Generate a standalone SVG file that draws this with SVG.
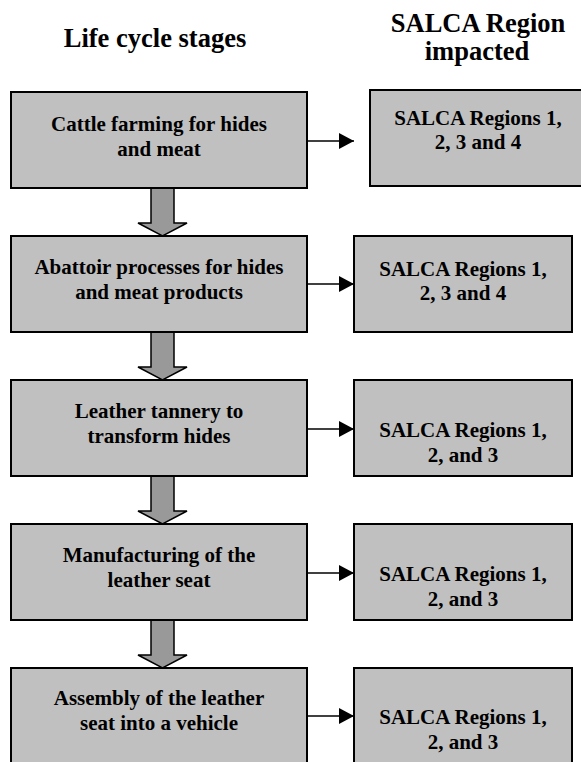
<svg xmlns="http://www.w3.org/2000/svg" width="581" height="762" viewBox="0 0 581 762">
<style>
.box{fill:#c0c0c0;stroke:#000;stroke-width:2}
.t{font-family:"Liberation Serif","Times New Roman",serif;font-weight:bold;font-size:21px;fill:#000;text-anchor:middle}
.h{font-family:"Liberation Serif","Times New Roman",serif;font-weight:bold;font-size:26.5px;fill:#000;text-anchor:middle}
.ba{fill:#999999;stroke:#000;stroke-width:1.5;stroke-linejoin:miter}
.ar{stroke:#000;stroke-width:1.5;fill:none}
</style>
<defs>
<marker id="ah" markerUnits="userSpaceOnUse" markerWidth="16" markerHeight="18" refX="15" refY="8" orient="auto">
<path d="M0,0 L15,8 L0,16 Z" fill="#000"/>
</marker>
</defs>
<g id="headers">
<text class="h" x="155" y="47">Life cycle stages</text>
<text class="h" x="478" y="32">SALCA Region</text>
<text class="h" x="477" y="60">impacted</text>
</g>
<g id="connectors">
<path class="ba" d="M151,188 L174,188 L174,223 L187,223 L162.5,236 L138,223 L151,223 Z"/>
<path class="ba" d="M151,332 L174,332 L174,367 L187,367 L162.5,380 L138,367 L151,367 Z"/>
<path class="ba" d="M151,476 L174,476 L174,511 L187,511 L162.5,524 L138,511 L151,511 Z"/>
<path class="ba" d="M151,620 L174,620 L174,655 L187,655 L162.5,668 L138,655 L151,655 Z"/>
<line class="ar" x1="307" y1="141" x2="354" y2="141" marker-end="url(#ah)"/>
<line class="ar" x1="307" y1="284" x2="354" y2="284" marker-end="url(#ah)"/>
<line class="ar" x1="307" y1="429" x2="354" y2="429" marker-end="url(#ah)"/>
<line class="ar" x1="307" y1="573" x2="354" y2="573" marker-end="url(#ah)"/>
<line class="ar" x1="307" y1="716" x2="354" y2="716" marker-end="url(#ah)"/>
</g>
<g id="stage1">
<rect class="box" x="11" y="92" width="296" height="96"/>
<text class="t" x="159" y="131">Cattle farming for hides</text>
<text class="t" x="159" y="156">and meat</text>
</g>
<g id="stage2">
<rect class="box" x="11" y="236" width="296" height="96"/>
<text class="t" x="159" y="274">Abattoir processes for hides</text>
<text class="t" x="159" y="299">and meat products</text>
</g>
<g id="stage3">
<rect class="box" x="11" y="380" width="296" height="96"/>
<text class="t" x="159" y="418">Leather tannery to</text>
<text class="t" x="159" y="443">transform hides</text>
</g>
<g id="stage4">
<rect class="box" x="11" y="524" width="296" height="96"/>
<text class="t" x="159" y="562">Manufacturing of the</text>
<text class="t" x="159" y="587">leather seat</text>
</g>
<g id="stage5">
<rect class="box" x="11" y="668" width="296" height="110"/>
<text class="t" x="159" y="705">Assembly of the leather</text>
<text class="t" x="159" y="730">seat into a vehicle</text>
</g>
<g id="region1">
<rect class="box" x="370" y="90" width="218" height="96"/>
<text class="t" x="478" y="125">SALCA Regions 1,</text>
<text class="t" x="478" y="149">2, 3 and 4</text>
</g>
<g id="region2">
<rect class="box" x="354" y="236" width="218" height="96"/>
<text class="t" x="463" y="276">SALCA Regions 1,</text>
<text class="t" x="463" y="300">2, 3 and 4</text>
</g>
<g id="region3">
<rect class="box" x="354" y="380" width="218" height="96"/>
<text class="t" x="463" y="437">SALCA Regions 1,</text>
<text class="t" x="463" y="462">2, and 3</text>
</g>
<g id="region4">
<rect class="box" x="354" y="524" width="218" height="96"/>
<text class="t" x="463" y="581">SALCA Regions 1,</text>
<text class="t" x="463" y="606">2, and 3</text>
</g>
<g id="region5">
<rect class="box" x="354" y="668" width="218" height="110"/>
<text class="t" x="463" y="724">SALCA Regions 1,</text>
<text class="t" x="463" y="749">2, and 3</text>
</g>
</svg>
